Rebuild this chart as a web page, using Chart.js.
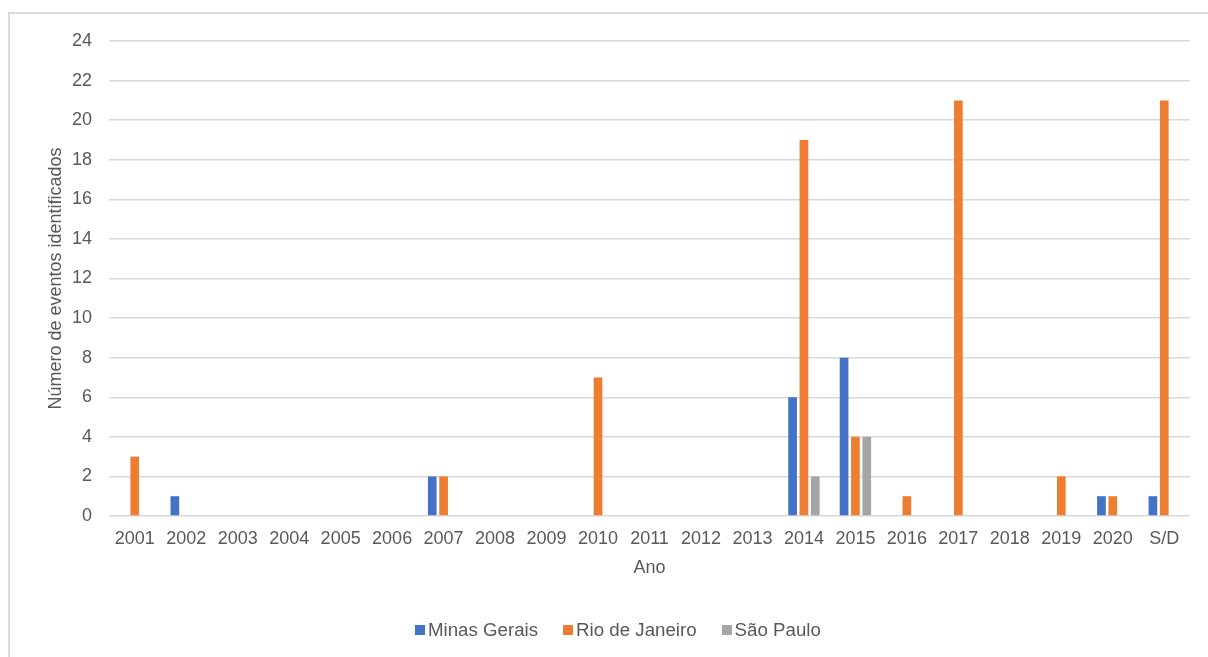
<!DOCTYPE html>
<html lang="pt">
<head>
<meta charset="utf-8">
<title>Número de eventos identificados por ano</title>
<script src="https://cdn.jsdelivr.net/npm/chart.js@4/dist/chart.umd.min.js"></script>
<style>
  html, body { margin: 0; padding: 0; background: #ffffff; }
  #wrap { position: relative; width: 1208px; height: 657px; overflow: hidden; }
  #frame {
    position: absolute; left: 8px; top: 12px; width: 1400px; height: 900px;
    border-left: 2px solid #dcdcdc; border-top: 2px solid #dcdcdc; box-sizing: border-box;
  }
  #chart { position: absolute; left: 0; top: 0; }
  #legend {
    position: absolute; left: 415px; top: 619px; height: 22px;
    display: flex; align-items: center;
    font-family: "Liberation Sans", Arial, sans-serif; font-size: 18.7px; color: #595959;
  }
  #legend .item { display: flex; align-items: center; margin-right: 25px; white-space: nowrap; }
  #legend .item:last-child { margin-right: 0; }
  #legend .swatch { width: 10px; height: 10px; margin-right: 3px; }
</style>
</head>
<body>
<div id="wrap">
  <div id="frame"></div>
  <canvas id="chart" width="1208" height="657"></canvas>
  <div id="legend"></div>
</div>
<script>
// Categories (years; S/D = sem data)
const anos = ["2001", "2002", "2003", "2004", "2005", "2006", "2007", "2008", "2009", "2010",
              "2011", "2012", "2013", "2014", "2015", "2016", "2017", "2018", "2019", "2020", "S/D"];

// Events identified per state
const minasGerais   = [0, 1, 0, 0, 0, 0, 2, 0, 0, 0, 0, 0, 0, 6, 8, 0, 0, 0, 0, 1, 1];
const rioDeJaneiro  = [3, 0, 0, 0, 0, 0, 2, 0, 0, 7, 0, 0, 0, 19, 4, 1, 21, 0, 2, 1, 21];
const saoPaulo      = [0, 0, 0, 0, 0, 0, 0, 0, 0, 0, 0, 0, 0, 2, 4, 0, 0, 0, 0, 0, 0];

const seriesNames  = ["Minas Gerais", "Rio de Janeiro", "São Paulo"];
const seriesColors = ["#4472C4", "#ED7D31", "#A5A5A5"];

// Y axis range
const yMin = 0, yMax = 24, yStep = 2;

const FONT = "'Liberation Sans', Arial, sans-serif";
const TEXT = "#595959";
const GRID = "#d9d9d9";

const seriesValues = [minasGerais, rioDeJaneiro, saoPaulo];
const datasets = seriesNames.map((name, i) => ({
  label: name,
  data: seriesValues[i],
  backgroundColor: seriesColors[i],
  borderWidth: 0,
  categoryPercentage: 0.661,
  barPercentage: 0.766
}));

const chart = new Chart(document.getElementById("chart"), {
  type: "bar",
  data: { labels: anos, datasets },
  options: {
    responsive: false,
    animation: false,
    layout: { padding: { left: 0, right: 18, top: 41, bottom: 0 } },
    plugins: {
      legend: { display: false },
      tooltip: { enabled: false }
    },
    scales: {
      x: {
        grid: { display: false, drawTicks: false },
        border: { display: false },
        ticks: {
          color: TEXT, font: { family: FONT, size: 18 }, padding: 12,
          maxRotation: 0, autoSkip: false
        },
        title: {
          display: true, text: "Ano", color: TEXT,
          font: { family: FONT, size: 18 }, padding: { top: 0, bottom: 78 }
        },
        afterFit: (scale) => { scale.height = 657 - 516; }
      },
      y: {
        min: yMin, max: yMax,
        grid: { color: GRID, lineWidth: 1.5, drawTicks: false },
        border: { display: false },
        ticks: {
          stepSize: yStep, color: TEXT, font: { family: FONT, size: 18 }, padding: 17
        },
        title: {
          display: true, text: "Número de eventos identificados", color: TEXT,
          font: { family: FONT, size: 18 }, padding: { top: 45, bottom: 0 }
        },
        afterFit: (scale) => { scale.width = 109; }
      }
    }
  }
});

// Legend built from the chart's datasets
const legend = document.getElementById("legend");
chart.data.datasets.forEach((ds) => {
  const item = document.createElement("div");
  item.className = "item";
  const sw = document.createElement("span");
  sw.className = "swatch";
  sw.style.background = ds.backgroundColor;
  const tx = document.createElement("span");
  tx.textContent = ds.label;
  item.appendChild(sw);
  item.appendChild(tx);
  legend.appendChild(item);
});
</script>
</body>
</html>
